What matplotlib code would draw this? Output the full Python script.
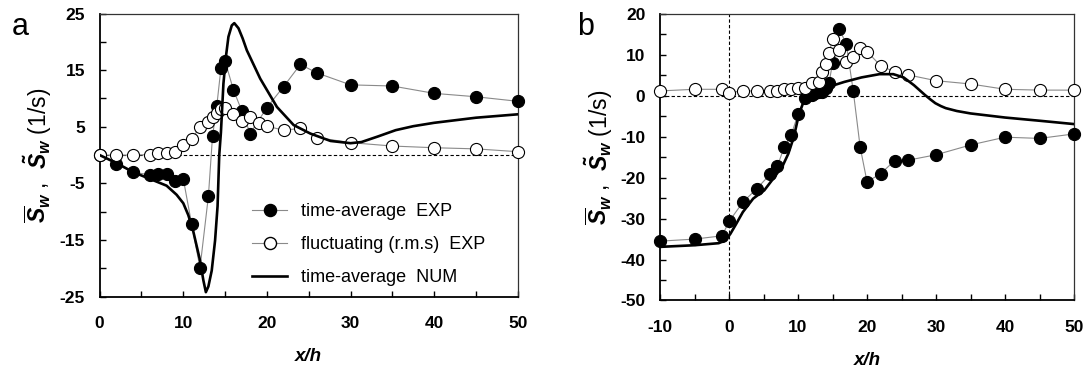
import matplotlib
matplotlib.use("Agg")
import matplotlib.pyplot as plt
from matplotlib.ticker import MultipleLocator, FixedLocator
from matplotlib.lines import Line2D

plt.rcParams['font.family'] = ['Liberation Sans', 'DejaVu Sans']
plt.rcParams['font.weight'] = 'bold'
plt.rcParams['axes.unicode_minus'] = False
plt.rcParams['mathtext.fontset'] = 'custom'
plt.rcParams['mathtext.rm'] = 'Liberation Sans'
plt.rcParams['mathtext.it'] = 'Liberation Sans:italic'
plt.rcParams['mathtext.bf'] = 'Liberation Sans:bold'

# ---------------- Panel a data ----------------
a_exp_mean_x = [0, 2, 4, 6, 7, 8, 9, 10, 11, 12, 13, 13.5, 14, 14.5, 15, 16, 17, 18,
                20, 22, 24, 26, 30, 35, 40, 45, 50]
a_exp_mean_y = [0, -1.6, -3.0, -3.5, -3.3, -3.3, -4.5, -4.2, -12.2, -19.9, -7.3, 3.4, 8.6,
                15.3, 16.6, 11.5, 7.8, 3.8, 8.4, 12.1, 16.0, 14.5, 12.4, 12.2, 10.9, 10.3, 9.5]

a_exp_rms_x = [0, 2, 4, 6, 7, 8, 9, 10, 11, 12, 13, 13.5, 14, 14.5, 15, 16, 17, 18, 19,
               20, 22, 24, 26, 30, 35, 40, 45, 50]
a_exp_rms_y = [0, 0.0, 0.0, 0.1, 0.3, 0.3, 0.6, 1.8, 2.8, 5.0, 5.9, 6.8, 7.5, 8.1, 8.4,
               7.3, 6.0, 6.7, 5.6, 5.1, 4.4, 4.7, 3.1, 2.2, 1.6, 1.3, 1.1, 0.6]

a_num_x = [0, 2, 4, 6, 8, 9.2, 10, 10.6, 11.2, 12, 12.4, 12.7, 13.0, 13.4, 13.8, 14.1,
           14.3, 14.5, 14.8, 15.1, 15.4, 15.8, 16.1, 16.6, 17.1, 17.6, 19.2, 21.2, 23.2,
           25.2, 27.6, 30.0, 31.3, 33.3, 35.4, 37.5, 40, 45, 50]
a_num_y = [0, -1.4, -3.0, -4.2, -5.4, -7.0, -8.5, -10.6, -13.5, -18.6, -22.1, -24.2, -23.2,
           -20.4, -15.1, -9.0, 0.0, 4.0, 12.6, 17.4, 20.9, 22.9, 23.3, 22.4, 20.6, 18.5,
           13.5, 8.5, 5.3, 3.8, 2.5, 2.1, 2.3, 3.3, 4.4, 5.1, 5.7, 6.6, 7.2]

# ---------------- Panel b data ----------------
b_exp_mean_x = [-10, -5, -1, 0, 2, 4, 6, 7, 8, 9, 10, 11, 12, 12.5, 13, 13.5, 14, 14.5,
                15, 16, 17, 18, 19, 20, 22, 24, 26, 30, 35, 40, 45, 50]
b_exp_mean_y = [-35.5, -35.0, -34.2, -30.7, -26.0, -22.7, -19.1, -17.2, -12.5, -9.6, -4.5,
                -0.6, 0.3, 0.7, 1.0, 1.0, 1.8, 3.2, 8.0, 16.3, 12.6, 1.2, -12.5, -21.0,
                -19.0, -15.8, -15.7, -14.4, -12.0, -10.1, -10.4, -9.3]

b_exp_rms_x = [-10, -5, -1, 0, 2, 4, 6, 7, 8, 9, 10, 11, 12, 13, 13.5, 14, 14.5, 15, 16,
               17, 18, 19, 20, 22, 24, 26, 30, 35, 40, 45, 50]
b_exp_rms_y = [1.2, 1.6, 1.6, 0.8, 1.2, 1.2, 1.2, 1.3, 1.6, 1.6, 1.8, 2.0, 3.2, 3.4, 5.9,
               7.7, 10.5, 13.8, 11.2, 8.3, 9.5, 11.6, 10.8, 7.3, 5.9, 5.1, 3.7, 2.9, 1.6,
               1.4, 1.4]

b_num_x = [-10, -5, -1.5, -0.5, 0.2, 1.0, 2.0, 3.5, 5.1, 6.6, 7.8, 8.6, 9.4, 10.1, 10.7,
           11.4, 12.7, 13.7, 15.2, 16.7, 19.2, 21.8, 23.8, 25.3, 26.8, 27.6, 28.4, 29.2,
           29.9, 30.7, 31.4, 33.0, 35.0, 40.0, 45.1, 50]
b_num_y = [-36.9, -36.5, -36.0, -35.3, -33.7, -31.4, -28.4, -25.1, -23.1, -19.8, -17.0,
           -14.1, -10.0, -4.7, -1.9, -0.9, 0.2, 1.4, 2.6, 3.4, 4.5, 5.3, 5.3, 4.5, 2.6,
           1.4, 0.2, -0.9, -1.8, -2.5, -3.0, -3.7, -4.3, -5.3, -6.1, -6.9]

legend_labels = ["time-average  EXP", "fluctuating (r.m.s)  EXP", "time-average  NUM"]
ylabel = r'$\overline{S}_{w}$ ,  $\tilde{S}_{w}$ (1/s)'

GRAY = '#8a8a8a'
MS = 8.7

fig = plt.figure(figsize=(10.87, 3.73), dpi=100)
axa = fig.add_axes([0.0917, 0.2046, 0.3846, 0.7592])
axb = fig.add_axes([0.6072, 0.1944, 0.3809, 0.7681])


def draw(ax, mx, my, rx, ry, nx, ny):
    ax.plot(mx, my, '-', color=GRAY, lw=0.8, marker='o', ms=MS, mfc='black',
            mec='black', mew=0.8, zorder=3, clip_on=False)
    ax.plot(rx, ry, '-', color=GRAY, lw=0.8, marker='o', ms=MS, mfc='white',
            mec='black', mew=0.8, zorder=4, clip_on=False)
    ax.plot(nx, ny, '-', color='black', lw=1.9, zorder=5)


def style(ax):
    for s in ['left', 'bottom']:
        ax.spines[s].set_linewidth(1.3)
        ax.spines[s].set_color('black')
    for s in ['top', 'right']:
        ax.spines[s].set_linewidth(0.9)
        ax.spines[s].set_color('#333333')
    ax.tick_params(axis='x', which='both', direction='in', length=4, width=1.0,
                   top=False, labelsize=12.5, pad=14)
    ax.tick_params(axis='y', which='both', direction='in', length=4, width=1.0,
                   right=False, labelsize=12.5, pad=10.5)
    ax.set_xlabel('x/h', fontsize=13.5, fontweight='bold', style='italic', labelpad=12)


# Panel a
draw(axa, a_exp_mean_x, a_exp_mean_y, a_exp_rms_x, a_exp_rms_y, a_num_x, a_num_y)
axa.plot([0, 50], [0, 0], ls=(0, (3, 2)), color='black', lw=0.8, zorder=1)
axa.set_xlim(0, 50)
axa.set_ylim(-25, 25)
axa.xaxis.set_major_locator(MultipleLocator(10))
axa.xaxis.set_minor_locator(MultipleLocator(5))
axa.yaxis.set_major_locator(FixedLocator([-25, -15, -5, 5, 15, 25]))
axa.yaxis.set_minor_locator(FixedLocator([-20, -10, 0, 10, 20]))
style(axa)
axa.set_ylabel(ylabel, fontsize=16.5, fontweight='normal', labelpad=4)

handles = [
    Line2D([], [], color=GRAY, lw=0.8, marker='o', ms=MS, mfc='black', mec='black'),
    Line2D([], [], color=GRAY, lw=0.8, marker='o', ms=MS, mfc='white', mec='black'),
    Line2D([], [], color='black', lw=1.9),
]
axa.legend(handles, legend_labels, loc='lower right', bbox_to_anchor=(0.94, 0.011),
           frameon=False, prop={'size': 13, 'weight': 'normal'}, handlelength=1.9,
           labelspacing=0.9, handletextpad=0.8, borderaxespad=0.0)

# Panel b
draw(axb, b_exp_mean_x, b_exp_mean_y, b_exp_rms_x, b_exp_rms_y, b_num_x, b_num_y)
axb.axhline(0, ls=(0, (3, 2)), color='black', lw=0.8, zorder=1)
axb.axvline(0, ls=(0, (3, 2)), color='black', lw=0.8, zorder=1)
axb.set_xlim(-10, 50)
axb.set_ylim(-50, 20)
axb.xaxis.set_major_locator(MultipleLocator(10))
axb.xaxis.set_minor_locator(MultipleLocator(5))
axb.yaxis.set_major_locator(MultipleLocator(10))
axb.yaxis.set_minor_locator(MultipleLocator(5))
style(axb)
axb.set_ylabel(ylabel, fontsize=16.5, fontweight='normal', labelpad=4)

fig.text(0.011, 0.905, 'a', fontsize=22, fontweight='normal')
fig.text(0.531, 0.905, 'b', fontsize=22, fontweight='normal')

fig.savefig('out.png', dpi=100, facecolor='white')
